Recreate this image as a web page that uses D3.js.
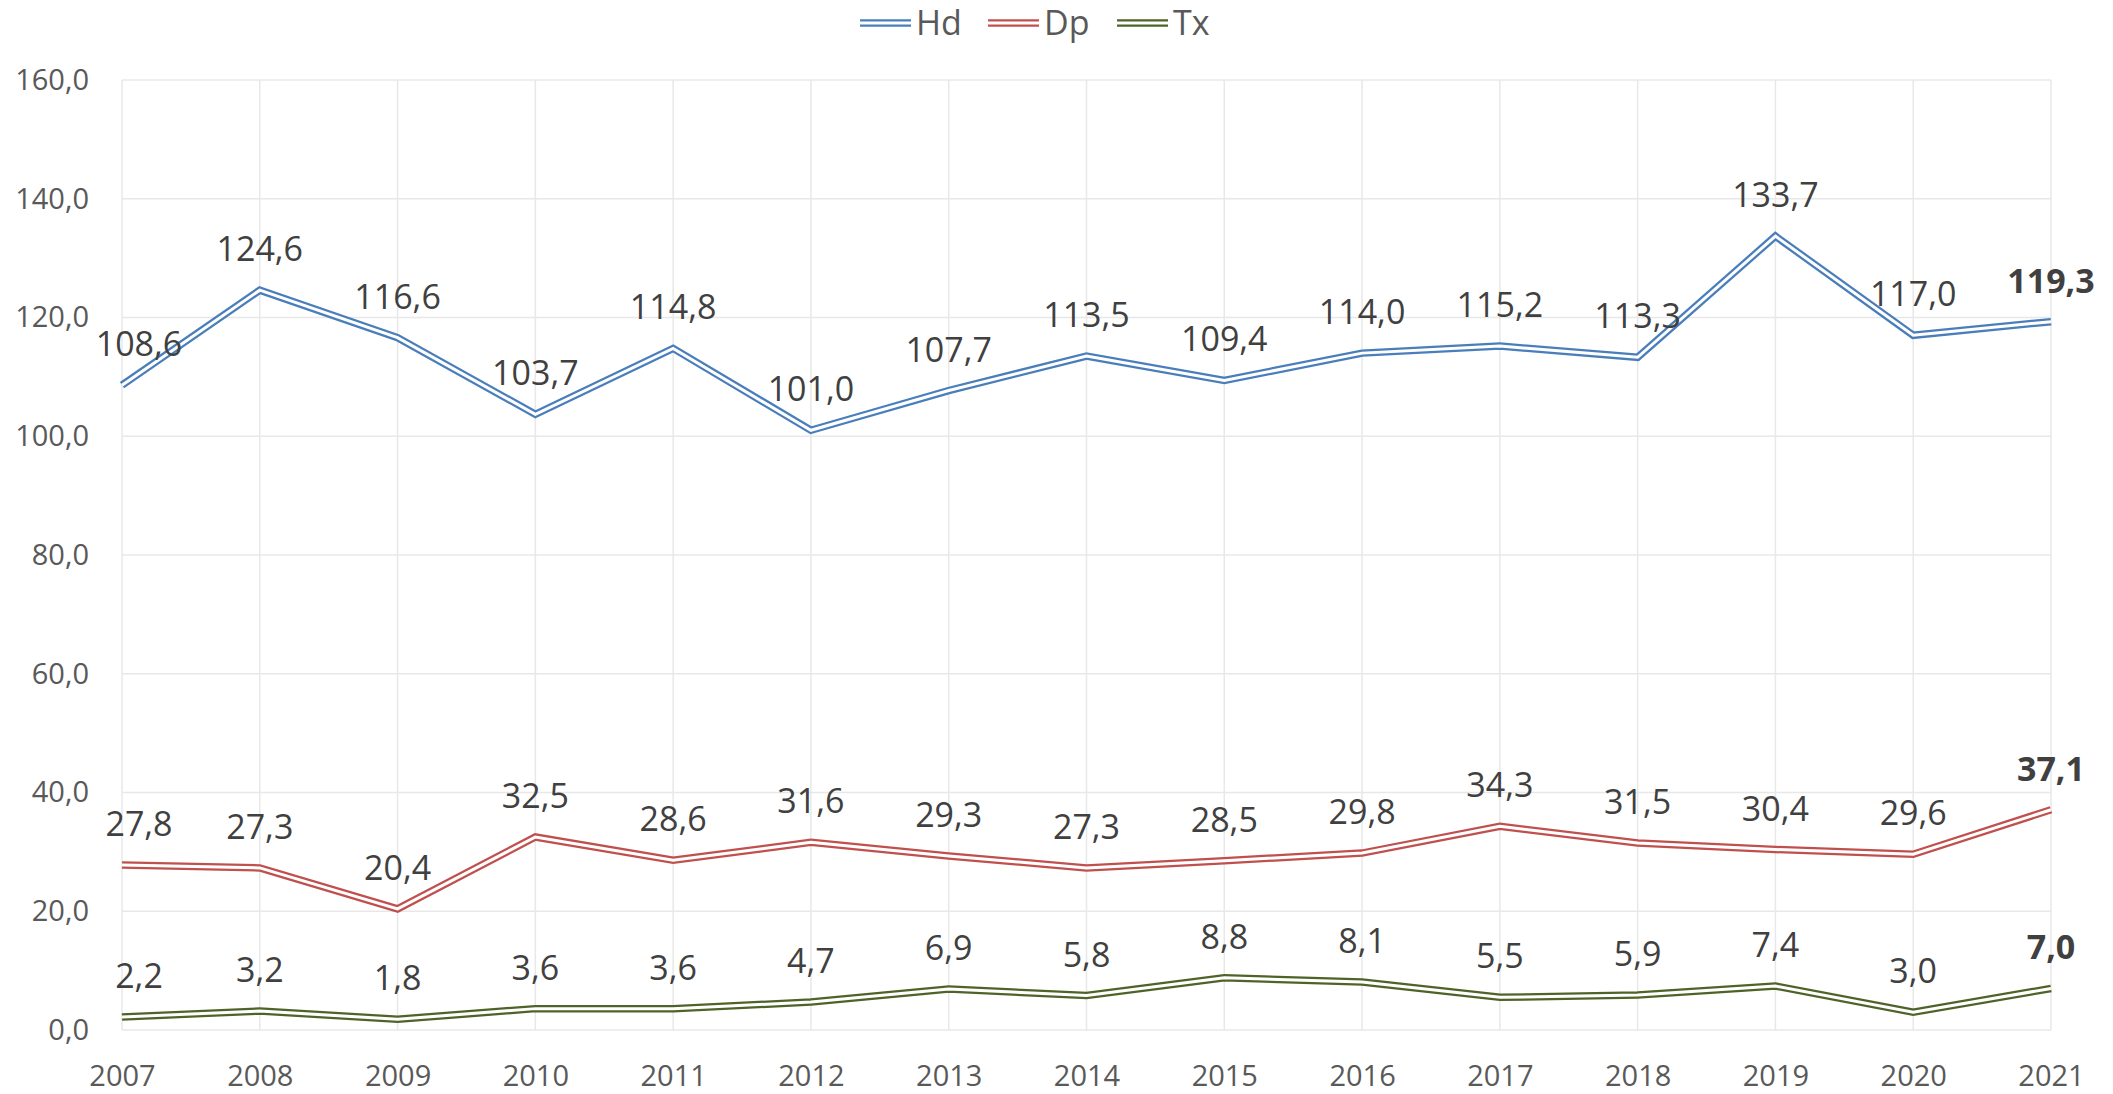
<!DOCTYPE html>
<html>
<head>
<meta charset="utf-8">
<script src="https://cdn.jsdelivr.net/npm/d3@7.9.0/dist/d3.min.js"></script>
<style>
  body { margin: 0; background: #fff; }
  text { font-family: "Segoe UI", "Open Sans", sans-serif; }
</style>
</head>
<body>
<div id="chart"></div>
<script>
// data
const years = ["2007","2008","2009","2010","2011","2012","2013","2014","2015","2016","2017","2018","2019","2020","2021"];
const hd = [108.6,124.6,116.6,103.7,114.8,101.0,107.7,113.5,109.4,114.0,115.2,113.3,133.7,117.0,119.3];
const dp = [27.8,27.3,20.4,32.5,28.6,31.6,29.3,27.3,28.5,29.8,34.3,31.5,30.4,29.6,37.1];
const tx = [2.2,3.2,1.8,3.6,3.6,4.7,6.9,5.8,8.8,8.1,5.5,5.9,7.4,3.0,7.0];
const yTicks = [0,20,40,60,80,100,120,140,160];

const series = [
  {name: "Hd", values: hd, color: "#4a7ebb"},
  {name: "Dp", values: dp, color: "#c0504d"},
  {name: "Tx", values: tx, color: "#4f6228"}
];

const W = 2113, H = 1094;
const margin = {top: 80, right: 62, bottom: 64, left: 122};
const width = W - margin.left - margin.right,
      height = H - margin.top - margin.bottom;

const fmt = v => d3.format(".1f")(v).replace(".", ",");

const svg = d3.select("#chart").append("svg")
    .attr("width", W).attr("height", H);
const g = svg.append("g")
    .attr("transform", `translate(${margin.left},${margin.top})`);

const x = d3.scalePoint().domain(years).range([0, width]).padding(0);
const y = d3.scaleLinear().domain([0, 160]).range([height, 0]);

// gridlines
g.append("g").selectAll("line.h")
  .data(yTicks).join("line")
    .attr("x1", 0).attr("x2", width)
    .attr("y1", d => y(d)).attr("y2", d => y(d))
    .attr("stroke", "#e8e8e8").attr("stroke-width", 1.5);
g.append("g").selectAll("line.v")
  .data(years).join("line")
    .attr("x1", d => x(d)).attr("x2", d => x(d))
    .attr("y1", 0).attr("y2", height)
    .attr("stroke", "#e8e8e8").attr("stroke-width", 1.5);

// y axis
const yAxis = g.append("g")
    .call(d3.axisLeft(y).tickValues(yTicks).tickFormat(fmt).tickSize(0).tickPadding(33));
yAxis.select(".domain").remove();
yAxis.selectAll("text")
    .attr("fill", "#595959").style("font-size", "29px")
    .style("font-family", '"Segoe UI", "Open Sans", sans-serif');

// x axis
const xAxis = g.append("g")
    .attr("transform", `translate(0,${height})`)
    .call(d3.axisBottom(x).tickSize(0).tickPadding(35));
xAxis.select(".domain").remove();
xAxis.selectAll("text")
    .attr("fill", "#595959").style("font-size", "29px")
    .style("font-family", '"Segoe UI", "Open Sans", sans-serif');

// double lines: thick coloured stroke with a white core
const line = d3.line()
    .x((d, i) => x(years[i]))
    .y(d => y(d));

series.forEach(s => {
  g.append("path").datum(s.values)
    .attr("fill", "none").attr("stroke", s.color)
    .attr("stroke-width", 7.5).attr("d", line);
  g.append("path").datum(s.values)
    .attr("fill", "none").attr("stroke", "#fff")
    .attr("stroke-width", 3).attr("d", line);
});

// data labels
series.forEach(s => {
  g.append("g").selectAll("text")
    .data(s.values).join("text")
      .attr("x", (d, i) => i === 0 ? x(years[i]) + 17 : x(years[i]))
      .attr("y", d => y(d) - 29)
      .attr("text-anchor", "middle")
      .attr("fill", "#404040")
      .style("font-size", "34px")
      .style("font-weight", (d, i) => i === years.length - 1 ? "bold" : "normal")
      .text(fmt);
});

// legend
const legend = svg.append("g");
const legX = [860, 988, 1117];
series.forEach((s, i) => {
  const lg = legend.append("g").attr("transform", `translate(${legX[i]},23)`);
  lg.append("line").attr("x1", 0).attr("x2", 51).attr("y1", 0).attr("y2", 0)
    .attr("stroke", s.color).attr("stroke-width", 7.5);
  lg.append("line").attr("x1", 0).attr("x2", 51).attr("y1", 0).attr("y2", 0)
    .attr("stroke", "#fff").attr("stroke-width", 3);
  lg.append("text").attr("x", 56).attr("y", 12)
    .attr("fill", "#595959").style("font-size", "34px").text(s.name);
});
</script>
</body>
</html>
